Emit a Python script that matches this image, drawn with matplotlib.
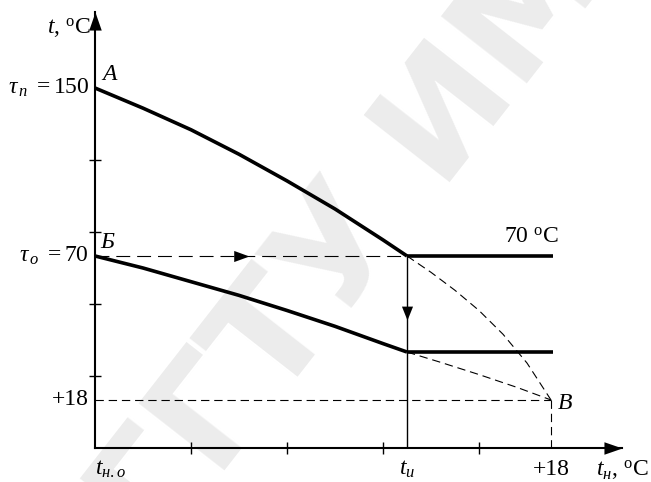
import matplotlib
matplotlib.use("Agg")
import matplotlib.pyplot as plt
from matplotlib.path import Path
import numpy as np

plt.rcParams['font.family'] = ['Liberation Serif', 'DejaVu Serif']
plt.rcParams['mathtext.fontset'] = 'custom'
plt.rcParams['mathtext.rm'] = 'Liberation Serif'
plt.rcParams['mathtext.it'] = 'Liberation Serif:italic'
plt.rcParams['mathtext.bf'] = 'Liberation Serif:bold'
plt.rcParams['lines.scale_dashes'] = False

# Schematic temperature graph (axes in tick steps)
x_ticks = [1, 2, 3, 4]
y_ticks = [1, 2, 3, 4]
x_design = 0.0        # t_н.о
x_break = 3.25        # t_и
x_indoor = 4.75       # +18 on the outdoor axis
x_end = 4.77          # end of the flat sections
y_supply = 5.0        # τ_п = 150
y_return = 2.667      # τ_о = 70
y_return_flat = 1.333
y_indoor = 0.667      # +18 on the temperature axis

supply_x = [0, 0.5, 1, 1.5, 2, 2.5, 3, 3.25]
supply_y = [5.0, 4.72, 4.42, 4.08, 3.71, 3.32, 2.89, 2.667]
return_x = [0, 0.5, 1, 1.5, 2, 2.5, 3, 3.25]
return_y = [2.667, 2.50, 2.31, 2.12, 1.91, 1.69, 1.45, 1.333]

supply_ext_x = [3.25, 3.5, 3.75, 4.0, 4.25, 4.5, 4.75]
supply_ext_y = [2.667, 2.44, 2.19, 1.91, 1.58, 1.18, 0.667]
return_ext_x = [3.25, 3.6, 4.0, 4.4, 4.75]
return_ext_y = [1.333, 1.19, 1.02, 0.84, 0.667]

x_arrow_tip = 5.49
y_arrow_tip = 6.06

W, H = 651, 482
X0, Y0 = 95, 448          # origin in pixels (from top-left)
UX, UY = 96, 72           # pixels per unit

fig = plt.figure(figsize=(W / 100, H / 100), dpi=100)

# faint watermark behind everything
fig.text(0.54, 0.50, "ГГТУ ИМ", fontsize=108, fontweight='bold',
         family='DejaVu Sans', color='#ececec', rotation=52,
         ha='center', va='center', zorder=-5)

ax = fig.add_axes([X0 / W, (H - Y0) / H, x_arrow_tip * UX / W, y_arrow_tip * UY / H])
ax.patch.set_alpha(0)
ax.set_xlim(0, x_arrow_tip)
ax.set_ylim(0, y_arrow_tip)
for s in ['top', 'right']:
    ax.spines[s].set_visible(False)
for s in ['left', 'bottom']:
    ax.spines[s].set_linewidth(1.5)
ax.set_xticks(x_ticks)
ax.set_yticks(y_ticks)
ax.set_xticklabels([])
ax.set_yticklabels([])
ax.tick_params(direction='inout', length=9, width=1.0)


def head(x, y, ang, length, half_w):
    verts = [(0, 0), (-1, half_w / length), (-1, -half_w / length), (0, 0)]
    c, s = np.cos(np.radians(ang)), np.sin(np.radians(ang))
    verts = [(vx * c - vy * s, vx * s + vy * c) for vx, vy in verts]
    path = Path(verts, [Path.MOVETO, Path.LINETO, Path.LINETO, Path.CLOSEPOLY])
    ext = max(max(abs(vx), abs(vy)) for vx, vy in verts)
    ax.plot([x], [y], marker=path, markersize=2 * length * ext, color='k',
            markeredgewidth=0, clip_on=False, zorder=6)


# axis arrows
head(x_arrow_tip, 0, 0, 13, 4.5)
head(0, y_arrow_tip, 90, 13, 4.5)

thick = dict(color='k', lw=2.6, solid_capstyle='butt', zorder=4)
ax.plot(supply_x, supply_y, **thick)
ax.plot(return_x, return_y, **thick)
ax.plot([x_break, x_end], [y_return, y_return], **thick)
ax.plot([x_break, x_end], [y_return_flat, y_return_flat], **thick)

dash_long = (0, (10, 5))
dash_short = (0, (6, 3.5))
thin = dict(color='k', lw=0.8)
ax.plot([0, x_break], [y_return, y_return], linestyle=dash_long, **thin)
ax.plot([0, x_indoor], [y_indoor, y_indoor], linestyle=dash_short, **thin)
ax.plot([x_indoor, x_indoor], [0, y_indoor], linestyle=dash_short, **thin)
ax.plot(supply_ext_x, supply_ext_y, linestyle=dash_short, **thin)
ax.plot(return_ext_x, return_ext_y, linestyle=dash_short, **thin)

# vertical switch line at t_и
ax.plot([x_break, x_break], [0, y_return], color='k', lw=1.0)
head(1.6, y_return, 0, 11, 4)
head(x_break, 1.78, -90, 10, 4)

fs = 17
ax.text(-0.04, 5.84, r"$t$, $^{\rm o}$C", fontsize=fs, ha='right', va='center', clip_on=False)
ax.text(-0.06, y_supply, r"$\tau_{\,n}\ = 150$", fontsize=fs, ha='right', va='center')
ax.text(-0.06, y_return, r"$\tau_{\,o}\ = 70$", fontsize=fs, ha='right', va='center')
ax.text(-0.06, y_indoor, "+18", fontsize=fs, ha='right', va='center')
ax.text(0.08, y_supply + 0.04, "A", fontsize=fs, style='italic', ha='left', va='bottom')
ax.text(0.06, y_return + 0.04, "Б", fontsize=fs, style='italic', ha='left', va='bottom')
ax.text(x_indoor + 0.07, y_indoor - 0.05, "В", fontsize=fs, style='italic', ha='left', va='center')
ax.text(x_end + 0.06, y_return + 0.12, r"70 $^{\rm o}$C", fontsize=fs, ha='right', va='bottom')

ax.text(x_design, -0.3, r"$t_{н.о}$", fontsize=fs, ha='left', va='center')
ax.text(x_break, -0.3, r"$t_{и}$", fontsize=fs, ha='center', va='center')
ax.text(x_indoor, -0.3, "+18", fontsize=fs, ha='center', va='center')
ax.text(x_arrow_tip + 0.28, -0.3, r"$t_{н}$, $^{\rm o}$C", fontsize=fs, ha='right', va='center', clip_on=False)

fig.savefig("out.png", dpi=100)
